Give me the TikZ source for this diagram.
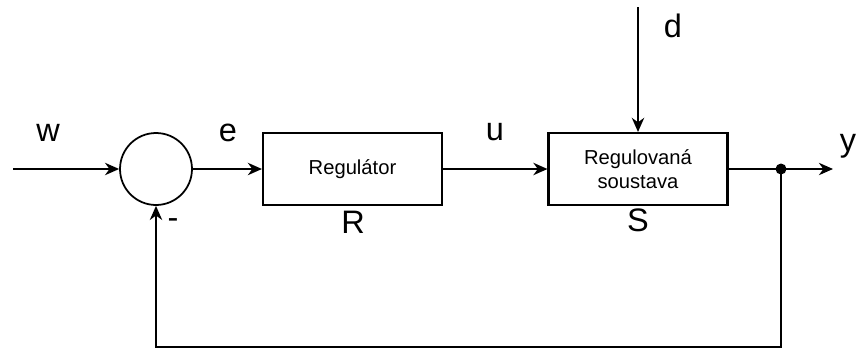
\documentclass[tikz,border=0pt]{standalone}
\usepackage{fontspec}
\setmainfont{Liberation Sans}
\usetikzlibrary{positioning, arrows.meta, calc}

\begin{document}
\begin{tikzpicture}[x=0.02cm, y=-0.02cm]
	% styly
	\tikzset{
		block/.style = {
			draw, line width=1.2pt,
			minimum width=3.58cm, minimum height=1.44cm,
			font=\fontsize{11.5}{14}\selectfont, align=center
		},
		sum/.style = {
			circle, draw, line width=1pt,
			minimum size=1.44cm, inner sep=0pt
		},
		junction/.style = {
			circle, fill=black,
			minimum size=0.22cm, inner sep=0pt
		},
		signal/.style = {
			line width=1.2pt,
			-{Stealth[length=8pt, width=7pt, inset=2.5pt]}
		},
		lbl/.style = {font=\fontsize{18.5}{22}\selectfont}
	}
	\useasboundingbox (0,0) rectangle (859,349);
	
	% bloky
	\node[sum] (sum) at (156,169) {};
	\node[block] (reg) at (352.5,169) {Regulátor};
	\node[block] (sys) at (638,169) {Regulovaná\\soustava};
	\node[junction] (split) at (781,169) {};
	
	% volné konce
	\coordinate (win) at (13,169);
	\coordinate (din) at (638,7);
	\coordinate (yout) at (833,169);
	\coordinate (fb) at (156,347);
	
	% signály
	\draw[signal] (win) -- (sum.west);
	\draw[signal] (sum.east) -- (reg.west);
	\draw[signal] (reg.east) -- (sys.west);
	\draw[signal] (din) -- (sys.north);
	\draw[signal] (sys.east) -- (yout);
	\draw[signal] (split.center) |- (fb) -- (sum.south);
	
	% popisky
	\node[lbl] (lw) at (48,133) {w};
	\node[lbl] (le) at (228,133) {e};
	\node[lbl] (lu) at (495,132) {u};
	\node[lbl] (ld) at (673,26) {d};
	\node[lbl, inner sep=0pt] (ly) at (848,146) {y};
	\node[lbl] (lr) at (353,222) {R};
	\node[lbl] (ls) at (638,220) {S};
	\node[lbl] (lm) at (173,224) {-};
\end{tikzpicture}
\end{document}
